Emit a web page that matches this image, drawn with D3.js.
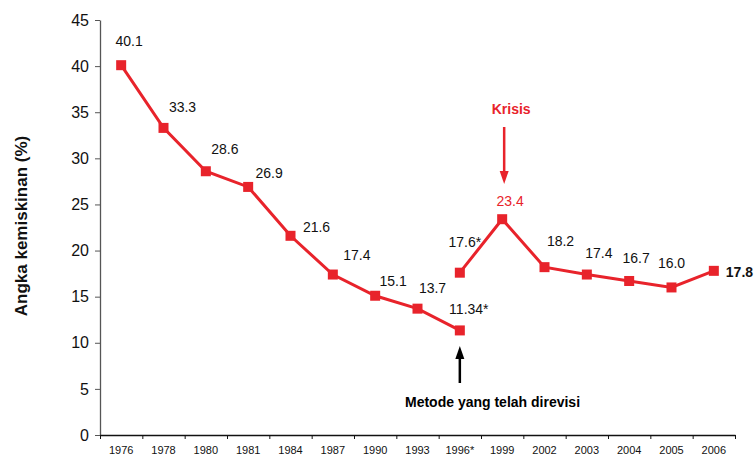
<!DOCTYPE html>
<html>
<head>
<meta charset="utf-8">
<script src="https://cdn.jsdelivr.net/npm/d3@7"></script>
<style>
  body { margin: 0; background: #fff; }
  svg { font-family: "Liberation Sans", Arial, sans-serif; }
</style>
</head>
<body>
<svg id="chart"></svg>
<script>
// data
const years = ["1976", "1978", "1980", "1981", "1984", "1987", "1990", "1993", "1996*",
    "1999", "2002", "2003", "2004", "2005", "2006"];

// metode lama: 1976 - 1996
const oldYears = ["1976", "1978", "1980", "1981", "1984", "1987", "1990", "1993", "1996*"];
const oldValues = [40.1, 33.3, 28.6, 26.9, 21.6, 17.4, 15.1, 13.7, 11.34];
const oldLabels = ["40.1", "33.3", "28.6", "26.9", "21.6", "17.4", "15.1", "13.7", "11.34*"];

// metode yang direvisi: 1996 - 2006
const newYears = ["1996*", "1999", "2002", "2003", "2004", "2005", "2006"];
const newValues = [17.6, 23.4, 18.2, 17.4, 16.7, 16.0, 17.8];
const newLabels = ["17.6*", "23.4", "18.2", "17.4", "16.7", "16.0", "17.8"];

const yTicks = [0, 5, 10, 15, 20, 25, 30, 35, 40, 45];

// label offsets relative to the marker (layout only)
const oldOffsets = [[8, -24], [19, -21], [19, -22], [21, -14], [26, -9], [24, -19], [18, -15], [15, -21], [9, -21]];
const newOffsets = [[5, -31], [8, -18], [16, -26], [12, -21], [7, -23], [0, -24], [12, 1]];

const width = 754;
const height = 457;
const red = "#e8232b";
const plotLeft = 100, plotRight = 735, plotTop = 20, plotBottom = 435;

let svg = d3.select("#chart").attr("width", width).attr("height", height);

let scX = d3.scaleBand().domain(years).range([plotLeft, plotRight]).padding(0);
let scY = d3.scaleLinear().domain([0, 45]).range([plotBottom, plotTop]);
let cx = (d) => scX(d) + scX.bandwidth() / 2;

// y axis
let gy = svg.append("g")
    .attr("transform", `translate(${plotLeft}, 0)`)
    .call(d3.axisLeft(scY).tickValues(yTicks).tickSize(5).tickSizeOuter(0).tickPadding(6));
gy.select(".domain").attr("stroke", "#555").attr("stroke-width", 1.3);
gy.selectAll(".tick line").attr("stroke", "#555");
gy.selectAll("text").attr("font-size", 16).attr("fill", "#111");

// x axis: labels in the band centers
let gx = svg.append("g")
    .attr("transform", `translate(0, ${plotBottom})`)
    .call(d3.axisBottom(scX).tickSize(0).tickPadding(11));
gx.select(".domain").remove();
gx.selectAll("text").attr("font-size", 11).attr("fill", "#111");

// x axis: ticks on the band edges
let scIdx = d3.scaleLinear().domain([0, years.length]).range([plotLeft, plotRight]);
let gxt = svg.append("g")
    .attr("transform", `translate(0, ${plotBottom})`)
    .call(d3.axisBottom(scIdx).tickValues(d3.range(years.length + 1)).tickSize(4).tickSizeOuter(0).tickFormat(""));
gxt.select(".domain").attr("stroke", "#111").attr("stroke-width", 1.3);
gxt.selectAll(".tick line").attr("stroke", "#111");

// y axis title
svg.append("text")
    .attr("transform", `translate(27, 226) rotate(-90)`)
    .attr("text-anchor", "middle")
    .attr("font-size", 17)
    .attr("font-weight", "bold")
    .attr("fill", "#111")
    .text("Angka kemiskinan (%)");

// lines
let line = d3.line().x((d) => cx(d[0])).y((d) => scY(d[1]));
let oldData = oldYears.map((y, i) => [y, oldValues[i]]);
let newData = newYears.map((y, i) => [y, newValues[i]]);

[oldData, newData].forEach((data) => {
    svg.append("path")
        .datum(data)
        .attr("d", line)
        .attr("fill", "none")
        .attr("stroke", red)
        .attr("stroke-width", 3);
});

// markers
const m = 10;
svg.selectAll(".dot")
    .data(oldData.concat(newData))
    .enter()
    .append("rect")
    .attr("x", (d) => cx(d[0]) - m / 2)
    .attr("y", (d) => scY(d[1]) - m / 2)
    .attr("width", m)
    .attr("height", m)
    .attr("fill", red);

// value labels
function addLabels(data, labels, offsets, isNew) {
    svg.selectAll(null)
        .data(data)
        .enter()
        .append("text")
        .attr("x", (d, i) => cx(d[0]) + offsets[i][0])
        .attr("y", (d, i) => scY(d[1]) + offsets[i][1])
        .attr("dy", "0.35em")
        .attr("text-anchor", (d, i) => (isNew && i == data.length - 1 ? "start" : "middle"))
        .attr("font-size", 14)
        .attr("font-weight", (d, i) => (isNew && i == data.length - 1 ? "bold" : "normal"))
        .attr("fill", (d) => (d[0] == "1999" ? red : "#111"))
        .text((d, i) => labels[i]);
}
addLabels(oldData, oldLabels, oldOffsets, false);
addLabels(newData, newLabels, newOffsets, true);

// annotation: Krisis
let kx = cx("1999");
svg.append("text")
    .attr("x", kx + 9)
    .attr("y", 109)
    .attr("dy", "0.35em")
    .attr("text-anchor", "middle")
    .attr("font-size", 14)
    .attr("font-weight", "bold")
    .attr("fill", red)
    .text("Krisis");
svg.append("line")
    .attr("x1", kx + 2).attr("x2", kx + 2)
    .attr("y1", 127).attr("y2", 172)
    .attr("stroke", red).attr("stroke-width", 2.5);
svg.append("path")
    .attr("d", `M${kx + 2 - 4.5},171 L${kx + 2 + 4.5},171 L${kx + 2},184 Z`)
    .attr("fill", red);

// annotation: metode yang direvisi
let mx = cx("1996*");
svg.append("line")
    .attr("x1", mx).attr("x2", mx)
    .attr("y1", 383).attr("y2", 358)
    .attr("stroke", "#000").attr("stroke-width", 2.5);
svg.append("path")
    .attr("d", `M${mx - 4.5},359 L${mx + 4.5},359 L${mx},346 Z`)
    .attr("fill", "#000");
svg.append("text")
    .attr("x", 405)
    .attr("y", 402)
    .attr("dy", "0.35em")
    .attr("font-size", 14)
    .attr("font-weight", "bold")
    .attr("fill", "#000")
    .text("Metode yang telah direvisi");
</script>
</body>
</html>
